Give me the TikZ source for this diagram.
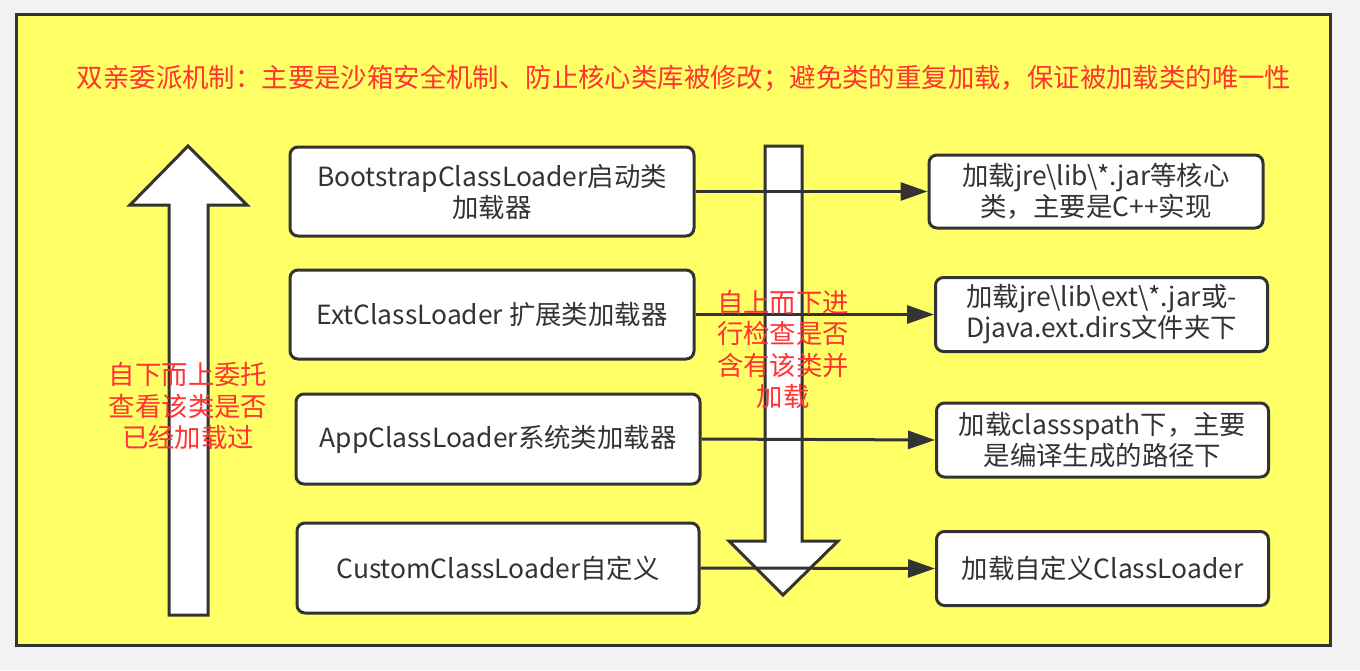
\documentclass[tikz,border=0pt]{standalone}
\usepackage{fontspec}
\setmainfont{Noto Sans CJK SC}
\usetikzlibrary{arrows.meta}
\definecolor{PanelYellow}{HTML}{FFFF66}
\definecolor{PageGray}{HTML}{F2F2F2}
\definecolor{EdgeGray}{HTML}{333333}
\definecolor{NoteRed}{HTML}{FF3333}

\begin{document}
\begin{tikzpicture}[x=1pt, y=-1pt, >={Triangle[length=27pt,width=18pt]},
    loaderbox/.style={draw=EdgeGray, line width=3pt, fill=white, rounded corners=8pt,
        minimum width=404pt, minimum height=89pt, inner sep=0pt, align=center,
        text=EdgeGray, font=\fontsize{26.4}{31}\selectfont},
    pathbox/.style={loaderbox, minimum width=332pt, minimum height=74pt},
    note/.style={text=NoteRed, align=center, font=\fontsize{26.4}{31.5}\selectfont},
    flow/.style={->, draw=EdgeGray, line width=3pt},
    bigarrow/.style={draw=EdgeGray, fill=white, line width=3pt, line join=miter}]

    % ========== PANEL ==========
    \fill[PageGray] (0,0) rectangle (1360,670);
    \draw[EdgeGray, line width=3pt, fill=PanelYellow] (16,14) rectangle (1330,645);

    \node[note] (title) at (684,78)
        {双亲委派机制：主要是沙箱安全机制、防止核心类库被修改；避免类的重复加载，保证被加载类的唯一性};

    % ========== BIG ARROWS ==========
    % Delegation upwards
    \draw[bigarrow] (169,615) -- (169,205) -- (130,205) -- (188,146)
        -- (247,205) -- (208,205) -- (208,615) -- cycle;
    % Loading downwards
    \draw[bigarrow] (765,146) -- (802,146) -- (802,541) -- (838,541)
        -- (783,595) -- (729,541) -- (765,541) -- cycle;

    % ========== LOADERS ==========
    \node[loaderbox] (boot) at (492,191.5) {BootstrapClassLoader启动类\\加载器};
    \node[loaderbox] (ext) at (492,314.5) {ExtClassLoader 扩展类加载器};
    \node[loaderbox, minimum height=90pt] (app) at (498,439) {AppClassLoader系统类加载器};
    \node[loaderbox, minimum width=402pt, minimum height=90pt] (custom) at (498,568) {CustomClassLoader自定义};

    % ========== WHAT EACH ONE LOADS ==========
    \node[pathbox, minimum width=334pt, minimum height=73pt] (bootR) at (1096,191.5)
        {加载jre\textbackslash{}lib\textbackslash{}*.jar等核心\\类，主要是C++实现};
    \node[pathbox] (extR) at (1101.5,314.5)
        {加载jre\textbackslash{}lib\textbackslash{}ext\textbackslash{}*.jar或-\\Djava.ext.dirs文件夹下};
    \node[pathbox] (appR) at (1102.5,440)
        {加载classspath下，主要\\是编译生成的路径下};
    \node[pathbox] (customR) at (1102.5,568.5) {加载自定义ClassLoader};

    \draw[flow] (boot.east) -- (bootR.west);
    \draw[flow] (ext.east) -- (extR.west);
    \draw[flow] (app.east) -- (appR.west);
    \draw[flow] (custom.east) -- (customR.west);

    % Arrow captions
    \node[note] (upNote) at (188,406) {自下而上委托\\查看该类是否\\已经加载过};
    \node[note] (downNote) at (783,349.5) {自上而下进\\行检查是否\\含有该类并\\加载};

\end{tikzpicture}
\end{document}
